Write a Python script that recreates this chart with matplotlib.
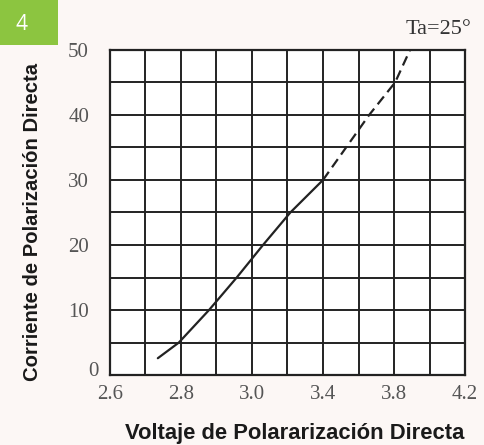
import numpy as np
import matplotlib
matplotlib.use("Agg")
import matplotlib.pyplot as plt
import matplotlib.transforms as mtransforms
from matplotlib.patches import Rectangle

# measured curve (forward voltage V, forward current mA)
v_solid = [2.735, 2.794, 2.879, 2.957, 3.000, 3.062, 3.216, 3.400]
i_solid = [2.6, 5.0, 10.0, 15.0, 17.9, 20.0, 25.0, 30.0]
v_dash = [3.40, 3.53, 3.66, 3.806, 3.89]
i_dash = [30.0, 35.0, 40.0, 45.0, 50.0]

x_ticks = [2.6, 2.8, 3.0, 3.4, 3.8, 4.2]
x_grid = [2.6, 2.7, 2.8, 2.9, 3.0, 3.2, 3.4, 3.6, 3.8, 4.0, 4.2]
y_ticks = [0, 10, 20, 30, 40, 50]
y_grid = [0, 5, 10, 15, 20, 25, 30, 35, 40, 45, 50]


# the printed axis is not linear: 0.1 V per cell up to 3.0, then 0.2 V per cell
def fwd(v):
    v = np.asarray(v, dtype=float)
    return np.where(v <= 3.0, (v - 2.6) / 0.1, 4 + (v - 3.0) / 0.2)


def inv(c):
    c = np.asarray(c, dtype=float)
    return np.where(c <= 4, 2.6 + 0.1 * c, 3.0 + 0.2 * (c - 4))


bg = '#fcf7f5'
fig = plt.figure(figsize=(4.84, 4.45), dpi=100, facecolor=bg)
ax = fig.add_axes([0.227, 0.157, 0.734, 0.731])
ax.set_facecolor('white')
ax.set_xscale('function', functions=(fwd, inv))
ax.set_xlim(2.6, 4.2)
ax.set_ylim(0, 50)

line_c = '#222222'
ax.set_xticks(x_ticks)
ax.set_xticklabels([f'{t:.1f}' for t in x_ticks])
ax.set_xticks(x_grid, minor=True)
ax.set_yticks(y_ticks)
ax.set_yticks(y_grid, minor=True)
ax.grid(which='both', color=line_c, linewidth=1.4)
ax.tick_params(which='both', length=0)
ax.tick_params(axis='x', pad=7)
ax.tick_params(axis='y', pad=15)
for lab in ax.get_xticklabels() + ax.get_yticklabels():
    lab.set_fontfamily('Liberation Serif')
    lab.set_fontsize(15)
    lab.set_color('#555555')
# the "0" sits tucked in just above the corner
zero = ax.yaxis.get_major_ticks()[0].label1
zero.set_transform(zero.get_transform() + mtransforms.ScaledTranslation(0.1, 0.06, fig.dpi_scale_trans))
for s in ax.spines.values():
    s.set_color(line_c)
    s.set_linewidth(1.6)

ax.plot(v_solid, i_solid, '-', color=line_c, linewidth=1.6, solid_capstyle='round')
ax.plot(v_dash, i_dash, color=line_c, linewidth=1.6, dashes=(4.5, 2.5))

ax.set_xlabel('Voltaje de Polararización Directa', fontsize=15.8, fontweight='bold',
              family='Liberation Sans', color='#1a1a1a')
ax.xaxis.set_label_coords(0.52, -0.148)
ax.set_ylabel('Corriente de Polarización Directa', fontsize=14.6, fontweight='bold',
              family='Liberation Sans', color='#1a1a1a')
ax.yaxis.set_label_coords(-0.19, 0.47)

fig.text(0.975, 0.912, 'Ta=25°', ha='right', va='bottom', fontsize=16,
         family='Liberation Serif', color='#333333')

fig.patches.append(Rectangle((0, 1 - 45 / 445), 58 / 484, 45 / 445, transform=fig.transFigure,
                             facecolor='#8cc540', edgecolor='none'))
fig.text(22 / 484, 1 - 25 / 445, '4', ha='center', va='center', fontsize=15,
         color='white', family='Open Sans')

plt.savefig('out.png', dpi=100, facecolor=bg)
